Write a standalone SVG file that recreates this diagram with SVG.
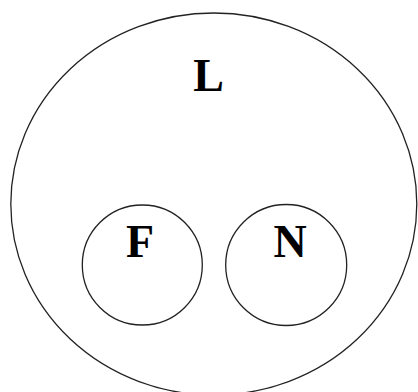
<svg xmlns="http://www.w3.org/2000/svg" width="418" height="392" viewBox="0 0 418 392">
<style>
.shape{fill:none;stroke:#222;stroke-width:1.3}
.lbl{font-family:"Liberation Serif","Times New Roman",serif;font-weight:bold;font-size:46px;fill:#000;text-anchor:middle}
</style>
<rect width="418" height="392" fill="#fff"/>
<g id="L">
<ellipse class="shape" cx="213.8" cy="204" rx="203" ry="191"/>
<text class="lbl" x="208.5" y="91">L</text>
</g>
<g id="F">
<circle class="shape" cx="142.3" cy="265" r="60"/>
<text class="lbl" x="140" y="257">F</text>
</g>
<g id="N">
<circle class="shape" cx="286.2" cy="265" r="60.5"/>
<text class="lbl" x="290" y="257">N</text>
</g>
<g id="connectors"/>
</svg>
